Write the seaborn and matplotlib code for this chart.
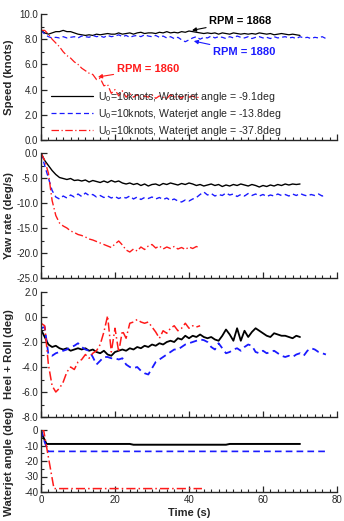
import numpy as np
import pandas as pd
import seaborn as sns
import matplotlib.pyplot as plt
from matplotlib.ticker import MultipleLocator, FormatStrFormatter

# speed (knots), 1 s samples
speed_a = [8.7, 8.5, 8.4, 8.5, 8.6, 8.6, 8.7, 8.6, 8.6, 8.5, 8.4, 8.35, 8.3, 8.35, 8.3, 8.4,
           8.35, 8.4, 8.45, 8.4, 8.4, 8.5, 8.4, 8.45, 8.5, 8.4, 8.5, 8.55, 8.45, 8.5, 8.5,
           8.45, 8.55, 8.5, 8.6, 8.5, 8.55, 8.5, 8.6, 8.55, 8.65, 8.6, 8.55, 8.5, 8.45, 8.5,
           8.45, 8.5, 8.4, 8.5, 8.45, 8.4, 8.5, 8.45, 8.4, 8.45, 8.4, 8.45, 8.4, 8.5, 8.45,
           8.4, 8.45, 8.35, 8.4, 8.45, 8.4, 8.35, 8.4, 8.35, 8.3]
speed_b = [8.7, 8.4, 8.2, 8.1, 8.15, 8.1, 8.2, 8.1, 8.15, 8.2, 8.1, 8.25, 8.2, 8.15, 8.3, 8.2,
           8.25, 8.15, 8.3, 8.2, 8.25, 8.35, 8.2, 8.3, 8.15, 8.25, 8.3, 8.2, 8.35, 8.25, 8.2,
           8.3, 8.15, 8.25, 8.1, 8.2, 8.05, 8.15, 7.95, 7.8, 7.95, 8.1, 8.2, 8.0, 8.15, 8.1,
           8.25, 8.1, 8.2, 8.15, 8.05, 8.2, 8.1, 8.25, 8.15, 8.1, 8.2, 8.05, 8.15, 8.2, 8.1,
           8.15, 8.05, 8.2, 8.1, 8.15, 8.2, 8.1, 8.15, 8.05, 8.2, 8.1, 8.15, 8.05, 8.15, 8.1,
           8.2, 8.05]
speed_c = [8.7, 8.7, 8.4, 8.0, 7.7, 7.4, 7.0, 6.7, 6.5, 6.2, 6.0, 5.7, 5.5, 5.3, 5.2, 4.8,
           4.9, 4.3, 4.4, 3.7, 4.0, 3.5, 3.9, 3.4, 3.7, 3.4, 3.6, 3.3, 3.5, 3.4, 3.6, 3.3,
           3.5, 3.4, 3.3, 3.6, 3.4, 3.5, 3.3, 3.6, 3.4, 3.5, 3.3, 3.5]

# yaw rate (deg/s)
yaw_a = [0, -1.5, -2.5, -3.5, -4.3, -4.9, -5.1, -5.3, -5.1, -5.5, -5.4, -5.6, -5.4, -5.8, -5.5,
         -5.7, -5.9, -5.6, -5.9, -5.5, -5.8, -5.6, -6.0, -6.2, -6.0, -6.3, -6.1, -6.5, -6.2,
         -6.6, -6.3, -6.2, -6.5, -6.1, -6.3, -6.0, -6.2, -6.4, -6.1, -6.3, -6.0, -6.2, -6.5,
         -6.3, -6.6, -6.4, -6.2, -6.5, -6.3, -6.7, -6.4, -6.6, -6.3, -6.5, -6.2, -6.4, -6.6,
         -6.3, -6.5, -6.8, -6.5, -6.7, -6.4, -6.6, -6.3, -6.5, -6.2, -6.4, -6.2, -6.3, -6.2]
yaw_b = [0, -2.5, -5, -7.5, -8.8, -9.2, -8.6, -9.0, -8.4, -8.8, -8.2, -8.7, -8.0, -8.5, -8.3,
         -8.8, -8.5, -8.9, -8.6, -9.0, -8.7, -9.1, -8.8, -9.0, -8.6, -9.2, -8.8, -9.3, -8.9,
         -9.1, -8.8, -9.2, -8.9, -9.3, -9.0, -9.5, -9.2, -9.6, -9.8, -9.4, -9.6, -9.2, -8.9,
         -8.3, -7.8, -8.4, -8.1, -8.6, -8.3, -8.5, -8.0, -8.4, -8.2, -8.7, -8.3, -8.6, -8.1,
         -8.5, -8.2, -8.6, -8.3, -8.7, -8.4, -8.6, -8.2, -8.5, -8.3, -8.6, -8.2, -8.5, -8.1,
         -8.4, -8.6, -8.3, -8.5, -8.2, -8.6, -8.4]
yaw_c = [0, -1.5, -4, -9.5, -12.5, -14, -14.6, -15.0, -15.6, -15.9, -16.3, -16.5, -16.8, -17.2,
         -17.4, -17.7, -18.0, -18.3, -18.6, -18.9, -18.2, -17.6, -18.4, -19.4, -19.8, -19.2,
         -19.6, -18.8, -19.3, -18.6, -18.3, -19.0, -18.6, -19.2, -18.8, -19.1, -18.7, -19.2,
         -18.9, -19.3, -18.8, -19.1, -18.7, -19.0]

# heel + roll (deg)
heel_a = [-1.0, -1.6, -2.2, -2.4, -2.3, -2.5, -2.6, -2.5, -2.7, -2.6, -2.5, -2.6, -2.5, -2.7,
          -2.6, -2.8, -2.9, -2.7, -3.0, -3.1, -2.8, -2.7, -2.6, -2.7, -2.5, -2.6, -2.4, -2.5,
          -2.3, -2.4, -2.2, -2.3, -2.1, -2.2, -2.0, -1.9, -2.0, -1.7, -1.8, -1.5, -1.7, -1.5,
          -1.6, -1.4, -1.6, -1.7, -1.6, -1.8, -1.9, -1.5, -1.0, -1.4, -1.9, -0.9, -1.9, -1.1,
          -1.6, -1.2, -0.9, -1.1, -1.3, -1.5, -1.6, -1.3, -1.4, -1.5, -1.5, -1.6, -1.7, -1.5,
          -1.6]
heel_b = [-0.9, -0.8, -3.0, -3.1, -2.9, -2.8, -2.7, -2.6, -2.4, -2.3, -2.1, -2.4, -2.6, -2.7,
          -3.2, -3.8, -3.5, -3.2, -3.2, -3.3, -3.3, -3.4, -3.3, -3.8, -4.0, -4.1, -4.0, -4.3,
          -4.5, -4.6, -4.1, -3.6, -3.4, -3.2, -3.0, -2.8, -2.6, -2.6, -2.4, -2.2, -2.1, -2.0,
          -1.9, -1.8, -1.85, -2.0, -2.4, -2.6, -2.1, -2.5, -2.9, -2.8, -2.6, -2.5, -2.7, -2.4,
          -2.2, -2.3, -2.8, -2.9, -2.7, -2.9, -2.8, -2.7, -2.9, -3.1, -3.2, -3.1, -3.2, -3.0,
          -2.9, -3.1, -2.7, -2.5, -2.6, -2.8, -2.9, -3.0]
heel_c = [-0.5, -0.7, -3.8, -5.5, -6.0, -5.7, -5.2, -4.4, -4.0, -4.2, -3.6, -3.4, -3.0, -3.3,
          -2.9, -2.7, -2.2, -1.2, 0.1, -2.8, -0.9, -2.8, -1.1, -1.7, -0.5, -0.4, -0.2, -0.4,
          -0.5, -0.4, -0.8, -1.2, -1.7, -1.1, -1.3, -0.9, -0.7, -1.1, -0.9, -0.5, -0.9, -0.7,
          -0.8, -0.7]

# waterjet angle (deg)
jet_t_a = [0, 0.5, 1.5, 24, 25, 50, 51, 70]
jet_a = [0, -4, -9, -9, -9.5, -9.5, -9, -9]
jet_t_b = [0, 1, 2, 77]
jet_b = [0, -8, -13.8, -13.8]
jet_t_c = [0, 0.7, 3.5, 43.5]
jet_c = [0, 0, -37.8, -37.8]

labels = [r'U$_\mathregular{0}$=10knots, Waterjet angle = -9.1deg',
          r'U$_\mathregular{0}$=10knots, Waterjet angle = -13.8deg',
          r'U$_\mathregular{0}$=10knots, Waterjet angle = -37.8deg']
colors = ['black', '#1a1aff', '#ff1a1a']
styles = ['-', (0, (4, 2.5)), (0, (6, 2, 1, 2))]

sns.set_style('ticks')
plt.rcParams['font.family'] = ['Liberation Sans', 'DejaVu Sans']
plt.rcParams['mathtext.fontset'] = 'custom'
plt.rcParams['mathtext.rm'] = 'Liberation Sans'
plt.rcParams['axes.unicode_minus'] = False

fig = plt.figure(figsize=(3.44, 5.21), dpi=100)
left, width = 41 / 344, 296 / 344
boxes = [(14, 140), (153, 278), (292, 417), (430, 492)]
axes = [fig.add_axes([left, 1 - b / 521, width, (b - t) / 521]) for t, b in boxes]


def draw(ax, series, lw):
    for i, (x, y) in enumerate(series):
        sns.lineplot(x=x, y=y, ax=ax, color=colors[i], linestyle=styles[i], lw=lw[i],
                     sort=False, errorbar=None, label=labels[i])


def t(v):
    return np.arange(len(v))


draw(axes[0], [(t(speed_a), speed_a), (t(speed_b), speed_b), (t(speed_c), speed_c)], [0.9, 0.9, 0.9])
draw(axes[1], [(t(yaw_a), yaw_a), (t(yaw_b), yaw_b), (t(yaw_c), yaw_c)], [1.0, 1.0, 1.0])
draw(axes[2], [(t(heel_a), heel_a), (t(heel_b), heel_b), (t(heel_c), heel_c)], [1.3, 1.3, 1.1])
draw(axes[3], [(jet_t_a, jet_a), (jet_t_b, jet_b), (jet_t_c, jet_c)], [1.4, 1.2, 1.1])

setup = [((0, 10), 2, 1, '%.1f', 'Speed (knots)'),
         ((-25, 0), 5, 2.5, '%.1f', 'Yaw rate (deg/s)'),
         ((-8, 2), 2, 1, '%.1f', 'Heel + Roll (deg)'),
         ((-40, 0), 10, 5, '%d', 'Waterjet angle (deg)')]
for i, (ax, (lim, maj, mnr, fmt, lab)) in enumerate(zip(axes, setup)):
    ax.set_xlim(0, 80)
    ax.set_ylim(*lim)
    ax.xaxis.set_major_locator(MultipleLocator(20))
    ax.xaxis.set_minor_locator(MultipleLocator(2))
    ax.yaxis.set_major_locator(MultipleLocator(maj))
    ax.yaxis.set_minor_locator(MultipleLocator(mnr))
    ax.yaxis.set_major_formatter(FormatStrFormatter(fmt))
    ax.tick_params(which='major', direction='in', length=4, width=0.9, labelsize=7, pad=2)
    ax.tick_params(which='minor', direction='in', length=2, width=0.8)
    for s in ['top', 'right']:
        ax.spines[s].set_visible(False)
    for s in ['left', 'bottom']:
        ax.spines[s].set_linewidth(1.0)
    ax.set_ylabel(lab, fontsize=8.2, fontweight='bold')
    ax.yaxis.set_label_coords(-0.09, 0.5)
    if i < 3:
        ax.tick_params(labelbottom=False)
        ax.set_xlabel('')
    if i > 0:
        ax.get_legend().remove()

axes[3].set_xlabel('Time (s)', fontsize=8, fontweight='bold', labelpad=2)
axes[0].legend(loc='lower left', bbox_to_anchor=(0.0, -0.06), frameon=False, fontsize=7.6,
               handlelength=4.0, handletextpad=0.5, labelspacing=0.3)

arrow = dict(arrowstyle='-|>', lw=0.8, mutation_scale=6, shrinkA=0, shrinkB=0)
axes[0].annotate('RPM = 1868', xy=(40.8, 8.7), xytext=(45.5, 9.45), fontsize=8, fontweight='bold',
                 color='black', va='center', arrowprops=dict(arrow, color='black'))
axes[0].annotate('RPM = 1880', xy=(41.3, 7.85), xytext=(46.5, 7.0), fontsize=8, fontweight='bold',
                 color=colors[1], va='center', arrowprops=dict(arrow, color=colors[1]))
axes[0].annotate('RPM = 1860', xy=(15.4, 5.0), xytext=(20.5, 5.65), fontsize=8, fontweight='bold',
                 color=colors[2], va='center', arrowprops=dict(arrow, color=colors[2]))

fig.savefig('out.png', dpi=100)
